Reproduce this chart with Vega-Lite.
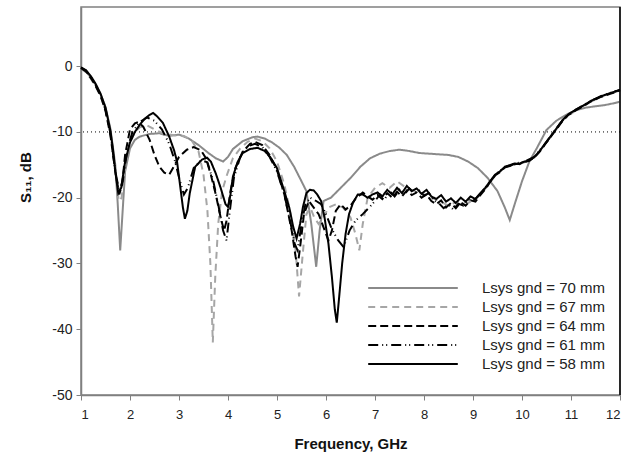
{
  "$schema": "https://vega.github.io/schema/vega-lite/v6.json",
  "autosize": {"type": "none"},
  "padding": {"left": 81, "top": 7, "right": 8, "bottom": 64},
  "width": 539,
  "height": 388,
  "background": "white",
  "config": {
    "font": "Liberation Sans",
    "view": {"stroke": "#808080", "strokeWidth": 1.5},
    "axis": {"grid": false, "domainColor": "#808080", "tickColor": "#808080", "domainWidth": 1.5, "tickSize": 5, "labelFont": "Liberation Sans", "labelFontSize": 13, "labelColor": "#222", "titleFont": "Liberation Sans", "titleFontSize": 15, "titleFontWeight": "bold", "titleColor": "#111"},
    "legend": {"padding": 0}
  },
  "datasets": {
    "curves": [
      {"s": "Lsys gnd = 70 mm", "f": 1.0, "db": -0.3}, {"s": "Lsys gnd = 70 mm", "f": 1.1, "db": -0.8}, {"s": "Lsys gnd = 70 mm", "f": 1.2, "db": -1.7}, {"s": "Lsys gnd = 70 mm", "f": 1.3, "db": -2.8}, {"s": "Lsys gnd = 70 mm", "f": 1.4, "db": -4.3}, {"s": "Lsys gnd = 70 mm", "f": 1.5, "db": -6.2}, {"s": "Lsys gnd = 70 mm", "f": 1.6, "db": -9.5}, {"s": "Lsys gnd = 70 mm", "f": 1.7, "db": -15}, {"s": "Lsys gnd = 70 mm", "f": 1.75, "db": -21}, {"s": "Lsys gnd = 70 mm", "f": 1.8, "db": -28}, {"s": "Lsys gnd = 70 mm", "f": 1.85, "db": -22}, {"s": "Lsys gnd = 70 mm", "f": 1.9, "db": -16}, {"s": "Lsys gnd = 70 mm", "f": 2.0, "db": -12.5}, {"s": "Lsys gnd = 70 mm", "f": 2.1, "db": -11.2}, {"s": "Lsys gnd = 70 mm", "f": 2.2, "db": -10.7}, {"s": "Lsys gnd = 70 mm", "f": 2.4, "db": -10.3}, {"s": "Lsys gnd = 70 mm", "f": 2.6, "db": -10.2}, {"s": "Lsys gnd = 70 mm", "f": 2.8, "db": -10.6}, {"s": "Lsys gnd = 70 mm", "f": 3.0, "db": -10.4}, {"s": "Lsys gnd = 70 mm", "f": 3.2, "db": -11}, {"s": "Lsys gnd = 70 mm", "f": 3.4, "db": -12}, {"s": "Lsys gnd = 70 mm", "f": 3.6, "db": -13.2}, {"s": "Lsys gnd = 70 mm", "f": 3.75, "db": -14}, {"s": "Lsys gnd = 70 mm", "f": 3.9, "db": -14.5}, {"s": "Lsys gnd = 70 mm", "f": 4.0, "db": -13.8}, {"s": "Lsys gnd = 70 mm", "f": 4.1, "db": -12.6}, {"s": "Lsys gnd = 70 mm", "f": 4.3, "db": -11.4}, {"s": "Lsys gnd = 70 mm", "f": 4.5, "db": -10.8}, {"s": "Lsys gnd = 70 mm", "f": 4.6, "db": -10.7}, {"s": "Lsys gnd = 70 mm", "f": 4.75, "db": -11}, {"s": "Lsys gnd = 70 mm", "f": 4.9, "db": -11.6}, {"s": "Lsys gnd = 70 mm", "f": 5.05, "db": -12.4}, {"s": "Lsys gnd = 70 mm", "f": 5.2, "db": -13.5}, {"s": "Lsys gnd = 70 mm", "f": 5.35, "db": -15.3}, {"s": "Lsys gnd = 70 mm", "f": 5.5, "db": -17.5}, {"s": "Lsys gnd = 70 mm", "f": 5.6, "db": -19}, {"s": "Lsys gnd = 70 mm", "f": 5.7, "db": -24}, {"s": "Lsys gnd = 70 mm", "f": 5.8, "db": -30.5}, {"s": "Lsys gnd = 70 mm", "f": 5.87, "db": -25}, {"s": "Lsys gnd = 70 mm", "f": 5.95, "db": -20.5}, {"s": "Lsys gnd = 70 mm", "f": 6.1, "db": -20}, {"s": "Lsys gnd = 70 mm", "f": 6.3, "db": -18.5}, {"s": "Lsys gnd = 70 mm", "f": 6.5, "db": -17}, {"s": "Lsys gnd = 70 mm", "f": 6.7, "db": -15.3}, {"s": "Lsys gnd = 70 mm", "f": 6.9, "db": -14}, {"s": "Lsys gnd = 70 mm", "f": 7.1, "db": -13.3}, {"s": "Lsys gnd = 70 mm", "f": 7.3, "db": -12.9}, {"s": "Lsys gnd = 70 mm", "f": 7.5, "db": -12.7}, {"s": "Lsys gnd = 70 mm", "f": 7.7, "db": -12.9}, {"s": "Lsys gnd = 70 mm", "f": 7.9, "db": -13.2}, {"s": "Lsys gnd = 70 mm", "f": 8.1, "db": -13.3}, {"s": "Lsys gnd = 70 mm", "f": 8.3, "db": -13.4}, {"s": "Lsys gnd = 70 mm", "f": 8.5, "db": -13.5}, {"s": "Lsys gnd = 70 mm", "f": 8.7, "db": -13.8}, {"s": "Lsys gnd = 70 mm", "f": 8.9, "db": -14.5}, {"s": "Lsys gnd = 70 mm", "f": 9.1, "db": -15.5}, {"s": "Lsys gnd = 70 mm", "f": 9.3, "db": -17}, {"s": "Lsys gnd = 70 mm", "f": 9.5, "db": -19}, {"s": "Lsys gnd = 70 mm", "f": 9.65, "db": -21.5}, {"s": "Lsys gnd = 70 mm", "f": 9.75, "db": -23.4}, {"s": "Lsys gnd = 70 mm", "f": 9.85, "db": -21}, {"s": "Lsys gnd = 70 mm", "f": 10.0, "db": -17.5}, {"s": "Lsys gnd = 70 mm", "f": 10.15, "db": -14.5}, {"s": "Lsys gnd = 70 mm", "f": 10.3, "db": -12.5}, {"s": "Lsys gnd = 70 mm", "f": 10.5, "db": -9.7}, {"s": "Lsys gnd = 70 mm", "f": 10.7, "db": -8.3}, {"s": "Lsys gnd = 70 mm", "f": 10.9, "db": -7.4}, {"s": "Lsys gnd = 70 mm", "f": 11.1, "db": -6.7}, {"s": "Lsys gnd = 70 mm", "f": 11.3, "db": -6.3}, {"s": "Lsys gnd = 70 mm", "f": 11.5, "db": -6.1}, {"s": "Lsys gnd = 70 mm", "f": 11.7, "db": -5.9}, {"s": "Lsys gnd = 70 mm", "f": 11.9, "db": -5.6}, {"s": "Lsys gnd = 70 mm", "f": 12.0, "db": -5.4},

      {"s": "Lsys gnd = 67 mm", "f": 1.0, "db": -0.3}, {"s": "Lsys gnd = 67 mm", "f": 1.1, "db": -0.9}, {"s": "Lsys gnd = 67 mm", "f": 1.2, "db": -1.9}, {"s": "Lsys gnd = 67 mm", "f": 1.3, "db": -3.1}, {"s": "Lsys gnd = 67 mm", "f": 1.4, "db": -4.6}, {"s": "Lsys gnd = 67 mm", "f": 1.5, "db": -6.6}, {"s": "Lsys gnd = 67 mm", "f": 1.6, "db": -10}, {"s": "Lsys gnd = 67 mm", "f": 1.7, "db": -15.5}, {"s": "Lsys gnd = 67 mm", "f": 1.77, "db": -20.5}, {"s": "Lsys gnd = 67 mm", "f": 1.83, "db": -20}, {"s": "Lsys gnd = 67 mm", "f": 1.9, "db": -15}, {"s": "Lsys gnd = 67 mm", "f": 2.0, "db": -11.5}, {"s": "Lsys gnd = 67 mm", "f": 2.1, "db": -10}, {"s": "Lsys gnd = 67 mm", "f": 2.2, "db": -9.3}, {"s": "Lsys gnd = 67 mm", "f": 2.35, "db": -9.0}, {"s": "Lsys gnd = 67 mm", "f": 2.5, "db": -9.6}, {"s": "Lsys gnd = 67 mm", "f": 2.7, "db": -10.3}, {"s": "Lsys gnd = 67 mm", "f": 2.9, "db": -10.5}, {"s": "Lsys gnd = 67 mm", "f": 3.1, "db": -10.6}, {"s": "Lsys gnd = 67 mm", "f": 3.25, "db": -11.2}, {"s": "Lsys gnd = 67 mm", "f": 3.4, "db": -13}, {"s": "Lsys gnd = 67 mm", "f": 3.5, "db": -16.5}, {"s": "Lsys gnd = 67 mm", "f": 3.58, "db": -22}, {"s": "Lsys gnd = 67 mm", "f": 3.64, "db": -30}, {"s": "Lsys gnd = 67 mm", "f": 3.69, "db": -42}, {"s": "Lsys gnd = 67 mm", "f": 3.74, "db": -32}, {"s": "Lsys gnd = 67 mm", "f": 3.8, "db": -24}, {"s": "Lsys gnd = 67 mm", "f": 3.88, "db": -19}, {"s": "Lsys gnd = 67 mm", "f": 3.98, "db": -16.5}, {"s": "Lsys gnd = 67 mm", "f": 4.1, "db": -14}, {"s": "Lsys gnd = 67 mm", "f": 4.25, "db": -12.5}, {"s": "Lsys gnd = 67 mm", "f": 4.4, "db": -11.5}, {"s": "Lsys gnd = 67 mm", "f": 4.55, "db": -11}, {"s": "Lsys gnd = 67 mm", "f": 4.7, "db": -11.4}, {"s": "Lsys gnd = 67 mm", "f": 4.85, "db": -12.5}, {"s": "Lsys gnd = 67 mm", "f": 5.0, "db": -14.5}, {"s": "Lsys gnd = 67 mm", "f": 5.15, "db": -18}, {"s": "Lsys gnd = 67 mm", "f": 5.28, "db": -22.5}, {"s": "Lsys gnd = 67 mm", "f": 5.38, "db": -28}, {"s": "Lsys gnd = 67 mm", "f": 5.45, "db": -35}, {"s": "Lsys gnd = 67 mm", "f": 5.52, "db": -29}, {"s": "Lsys gnd = 67 mm", "f": 5.6, "db": -22.5}, {"s": "Lsys gnd = 67 mm", "f": 5.68, "db": -21.5}, {"s": "Lsys gnd = 67 mm", "f": 5.76, "db": -23}, {"s": "Lsys gnd = 67 mm", "f": 5.85, "db": -24}, {"s": "Lsys gnd = 67 mm", "f": 5.95, "db": -23}, {"s": "Lsys gnd = 67 mm", "f": 6.05, "db": -21.5}, {"s": "Lsys gnd = 67 mm", "f": 6.2, "db": -21}, {"s": "Lsys gnd = 67 mm", "f": 6.35, "db": -21.5}, {"s": "Lsys gnd = 67 mm", "f": 6.5, "db": -23}, {"s": "Lsys gnd = 67 mm", "f": 6.6, "db": -25.5}, {"s": "Lsys gnd = 67 mm", "f": 6.68, "db": -28}, {"s": "Lsys gnd = 67 mm", "f": 6.75, "db": -24}, {"s": "Lsys gnd = 67 mm", "f": 6.85, "db": -20}, {"s": "Lsys gnd = 67 mm", "f": 7.0, "db": -18.5}, {"s": "Lsys gnd = 67 mm", "f": 7.15, "db": -17.8}, {"s": "Lsys gnd = 67 mm", "f": 7.3, "db": -18.5}, {"s": "Lsys gnd = 67 mm", "f": 7.45, "db": -17.5}, {"s": "Lsys gnd = 67 mm", "f": 7.6, "db": -18.3}, {"s": "Lsys gnd = 67 mm", "f": 7.75, "db": -18.8}, {"s": "Lsys gnd = 67 mm", "f": 7.9, "db": -19.2}, {"s": "Lsys gnd = 67 mm", "f": 8.1, "db": -19.8}, {"s": "Lsys gnd = 67 mm", "f": 8.3, "db": -20.5}, {"s": "Lsys gnd = 67 mm", "f": 8.5, "db": -21.2}, {"s": "Lsys gnd = 67 mm", "f": 8.7, "db": -20.5}, {"s": "Lsys gnd = 67 mm", "f": 8.9, "db": -20.8}, {"s": "Lsys gnd = 67 mm", "f": 9.1, "db": -19.9}, {"s": "Lsys gnd = 67 mm", "f": 9.3, "db": -18.2}, {"s": "Lsys gnd = 67 mm", "f": 9.45, "db": -16.7}, {"s": "Lsys gnd = 67 mm", "f": 9.65, "db": -15.4}, {"s": "Lsys gnd = 67 mm", "f": 9.85, "db": -14.9}, {"s": "Lsys gnd = 67 mm", "f": 10.05, "db": -14.6}, {"s": "Lsys gnd = 67 mm", "f": 10.25, "db": -13.9}, {"s": "Lsys gnd = 67 mm", "f": 10.45, "db": -12.1}, {"s": "Lsys gnd = 67 mm", "f": 10.65, "db": -10.1}, {"s": "Lsys gnd = 67 mm", "f": 10.85, "db": -8.1}, {"s": "Lsys gnd = 67 mm", "f": 11.1, "db": -6.7}, {"s": "Lsys gnd = 67 mm", "f": 11.4, "db": -5.4}, {"s": "Lsys gnd = 67 mm", "f": 11.7, "db": -4.4}, {"s": "Lsys gnd = 67 mm", "f": 12.0, "db": -3.7},

      {"s": "Lsys gnd = 64 mm", "f": 1.0, "db": -0.3}, {"s": "Lsys gnd = 64 mm", "f": 1.1, "db": -0.8}, {"s": "Lsys gnd = 64 mm", "f": 1.2, "db": -1.8}, {"s": "Lsys gnd = 64 mm", "f": 1.3, "db": -3}, {"s": "Lsys gnd = 64 mm", "f": 1.4, "db": -4.5}, {"s": "Lsys gnd = 64 mm", "f": 1.5, "db": -6.8}, {"s": "Lsys gnd = 64 mm", "f": 1.6, "db": -10.5}, {"s": "Lsys gnd = 64 mm", "f": 1.7, "db": -16}, {"s": "Lsys gnd = 64 mm", "f": 1.78, "db": -19.5}, {"s": "Lsys gnd = 64 mm", "f": 1.84, "db": -18}, {"s": "Lsys gnd = 64 mm", "f": 1.9, "db": -13.5}, {"s": "Lsys gnd = 64 mm", "f": 2.0, "db": -9.6}, {"s": "Lsys gnd = 64 mm", "f": 2.1, "db": -8.7}, {"s": "Lsys gnd = 64 mm", "f": 2.17, "db": -8.5}, {"s": "Lsys gnd = 64 mm", "f": 2.27, "db": -9.2}, {"s": "Lsys gnd = 64 mm", "f": 2.4, "db": -11.2}, {"s": "Lsys gnd = 64 mm", "f": 2.5, "db": -13.5}, {"s": "Lsys gnd = 64 mm", "f": 2.6, "db": -15.3}, {"s": "Lsys gnd = 64 mm", "f": 2.7, "db": -16.2}, {"s": "Lsys gnd = 64 mm", "f": 2.8, "db": -16.5}, {"s": "Lsys gnd = 64 mm", "f": 2.9, "db": -15.2}, {"s": "Lsys gnd = 64 mm", "f": 3.0, "db": -13.8}, {"s": "Lsys gnd = 64 mm", "f": 3.16, "db": -12.7}, {"s": "Lsys gnd = 64 mm", "f": 3.3, "db": -12.3}, {"s": "Lsys gnd = 64 mm", "f": 3.45, "db": -12.8}, {"s": "Lsys gnd = 64 mm", "f": 3.55, "db": -14}, {"s": "Lsys gnd = 64 mm", "f": 3.65, "db": -16.5}, {"s": "Lsys gnd = 64 mm", "f": 3.75, "db": -19.5}, {"s": "Lsys gnd = 64 mm", "f": 3.85, "db": -23}, {"s": "Lsys gnd = 64 mm", "f": 3.92, "db": -25}, {"s": "Lsys gnd = 64 mm", "f": 3.97, "db": -23.5}, {"s": "Lsys gnd = 64 mm", "f": 4.05, "db": -19}, {"s": "Lsys gnd = 64 mm", "f": 4.15, "db": -15.5}, {"s": "Lsys gnd = 64 mm", "f": 4.3, "db": -13}, {"s": "Lsys gnd = 64 mm", "f": 4.45, "db": -11.8}, {"s": "Lsys gnd = 64 mm", "f": 4.55, "db": -11.5}, {"s": "Lsys gnd = 64 mm", "f": 4.7, "db": -12}, {"s": "Lsys gnd = 64 mm", "f": 4.85, "db": -13.5}, {"s": "Lsys gnd = 64 mm", "f": 5.0, "db": -15.8}, {"s": "Lsys gnd = 64 mm", "f": 5.15, "db": -19.5}, {"s": "Lsys gnd = 64 mm", "f": 5.3, "db": -25}, {"s": "Lsys gnd = 64 mm", "f": 5.38, "db": -29}, {"s": "Lsys gnd = 64 mm", "f": 5.42, "db": -30.5}, {"s": "Lsys gnd = 64 mm", "f": 5.48, "db": -27}, {"s": "Lsys gnd = 64 mm", "f": 5.55, "db": -22.5}, {"s": "Lsys gnd = 64 mm", "f": 5.65, "db": -20.5}, {"s": "Lsys gnd = 64 mm", "f": 5.75, "db": -21.5}, {"s": "Lsys gnd = 64 mm", "f": 5.85, "db": -22.5}, {"s": "Lsys gnd = 64 mm", "f": 5.95, "db": -24.5}, {"s": "Lsys gnd = 64 mm", "f": 6.05, "db": -26.5}, {"s": "Lsys gnd = 64 mm", "f": 6.12, "db": -25}, {"s": "Lsys gnd = 64 mm", "f": 6.2, "db": -22}, {"s": "Lsys gnd = 64 mm", "f": 6.3, "db": -21}, {"s": "Lsys gnd = 64 mm", "f": 6.4, "db": -21.8}, {"s": "Lsys gnd = 64 mm", "f": 6.5, "db": -21.2}, {"s": "Lsys gnd = 64 mm", "f": 6.6, "db": -20.2}, {"s": "Lsys gnd = 64 mm", "f": 6.75, "db": -19.2}, {"s": "Lsys gnd = 64 mm", "f": 6.85, "db": -19.8}, {"s": "Lsys gnd = 64 mm", "f": 6.95, "db": -20.3}, {"s": "Lsys gnd = 64 mm", "f": 7.05, "db": -19.6}, {"s": "Lsys gnd = 64 mm", "f": 7.15, "db": -20.2}, {"s": "Lsys gnd = 64 mm", "f": 7.25, "db": -19.3}, {"s": "Lsys gnd = 64 mm", "f": 7.35, "db": -20}, {"s": "Lsys gnd = 64 mm", "f": 7.45, "db": -19.1}, {"s": "Lsys gnd = 64 mm", "f": 7.55, "db": -19.8}, {"s": "Lsys gnd = 64 mm", "f": 7.65, "db": -18.9}, {"s": "Lsys gnd = 64 mm", "f": 7.75, "db": -19.6}, {"s": "Lsys gnd = 64 mm", "f": 7.85, "db": -19.2}, {"s": "Lsys gnd = 64 mm", "f": 7.95, "db": -20}, {"s": "Lsys gnd = 64 mm", "f": 8.05, "db": -19.5}, {"s": "Lsys gnd = 64 mm", "f": 8.15, "db": -20.5}, {"s": "Lsys gnd = 64 mm", "f": 8.25, "db": -21}, {"s": "Lsys gnd = 64 mm", "f": 8.35, "db": -20.4}, {"s": "Lsys gnd = 64 mm", "f": 8.45, "db": -21.5}, {"s": "Lsys gnd = 64 mm", "f": 8.55, "db": -20.8}, {"s": "Lsys gnd = 64 mm", "f": 8.65, "db": -21.6}, {"s": "Lsys gnd = 64 mm", "f": 8.75, "db": -20.7}, {"s": "Lsys gnd = 64 mm", "f": 8.85, "db": -21.2}, {"s": "Lsys gnd = 64 mm", "f": 8.95, "db": -20.4}, {"s": "Lsys gnd = 64 mm", "f": 9.05, "db": -20.6}, {"s": "Lsys gnd = 64 mm", "f": 9.15, "db": -19.6}, {"s": "Lsys gnd = 64 mm", "f": 9.25, "db": -18.7}, {"s": "Lsys gnd = 64 mm", "f": 9.35, "db": -17.6}, {"s": "Lsys gnd = 64 mm", "f": 9.45, "db": -16.6}, {"s": "Lsys gnd = 64 mm", "f": 9.55, "db": -16.1}, {"s": "Lsys gnd = 64 mm", "f": 9.65, "db": -15.4}, {"s": "Lsys gnd = 64 mm", "f": 9.75, "db": -15.1}, {"s": "Lsys gnd = 64 mm", "f": 9.85, "db": -14.9}, {"s": "Lsys gnd = 64 mm", "f": 9.95, "db": -14.8}, {"s": "Lsys gnd = 64 mm", "f": 10.05, "db": -14.6}, {"s": "Lsys gnd = 64 mm", "f": 10.15, "db": -14.3}, {"s": "Lsys gnd = 64 mm", "f": 10.25, "db": -13.9}, {"s": "Lsys gnd = 64 mm", "f": 10.35, "db": -13.1}, {"s": "Lsys gnd = 64 mm", "f": 10.45, "db": -12.1}, {"s": "Lsys gnd = 64 mm", "f": 10.55, "db": -11.1}, {"s": "Lsys gnd = 64 mm", "f": 10.65, "db": -10.1}, {"s": "Lsys gnd = 64 mm", "f": 10.75, "db": -9.1}, {"s": "Lsys gnd = 64 mm", "f": 10.85, "db": -8.1}, {"s": "Lsys gnd = 64 mm", "f": 10.95, "db": -7.4}, {"s": "Lsys gnd = 64 mm", "f": 11.1, "db": -6.7}, {"s": "Lsys gnd = 64 mm", "f": 11.25, "db": -6.1}, {"s": "Lsys gnd = 64 mm", "f": 11.4, "db": -5.4}, {"s": "Lsys gnd = 64 mm", "f": 11.6, "db": -4.7}, {"s": "Lsys gnd = 64 mm", "f": 11.8, "db": -4.2}, {"s": "Lsys gnd = 64 mm", "f": 12.0, "db": -3.7},

      {"s": "Lsys gnd = 61 mm", "f": 1.0, "db": -0.2}, {"s": "Lsys gnd = 61 mm", "f": 1.1, "db": -0.7}, {"s": "Lsys gnd = 61 mm", "f": 1.2, "db": -1.6}, {"s": "Lsys gnd = 61 mm", "f": 1.3, "db": -2.9}, {"s": "Lsys gnd = 61 mm", "f": 1.4, "db": -4.4}, {"s": "Lsys gnd = 61 mm", "f": 1.5, "db": -6.6}, {"s": "Lsys gnd = 61 mm", "f": 1.6, "db": -10.2}, {"s": "Lsys gnd = 61 mm", "f": 1.7, "db": -16}, {"s": "Lsys gnd = 61 mm", "f": 1.78, "db": -19}, {"s": "Lsys gnd = 61 mm", "f": 1.85, "db": -17.5}, {"s": "Lsys gnd = 61 mm", "f": 1.95, "db": -12.5}, {"s": "Lsys gnd = 61 mm", "f": 2.05, "db": -10}, {"s": "Lsys gnd = 61 mm", "f": 2.2, "db": -8.5}, {"s": "Lsys gnd = 61 mm", "f": 2.35, "db": -7.8}, {"s": "Lsys gnd = 61 mm", "f": 2.5, "db": -8.3}, {"s": "Lsys gnd = 61 mm", "f": 2.65, "db": -9.6}, {"s": "Lsys gnd = 61 mm", "f": 2.8, "db": -11.8}, {"s": "Lsys gnd = 61 mm", "f": 2.92, "db": -14.5}, {"s": "Lsys gnd = 61 mm", "f": 3.02, "db": -17.5}, {"s": "Lsys gnd = 61 mm", "f": 3.1, "db": -19.5}, {"s": "Lsys gnd = 61 mm", "f": 3.18, "db": -18.5}, {"s": "Lsys gnd = 61 mm", "f": 3.3, "db": -15.5}, {"s": "Lsys gnd = 61 mm", "f": 3.45, "db": -14.3}, {"s": "Lsys gnd = 61 mm", "f": 3.58, "db": -14.6}, {"s": "Lsys gnd = 61 mm", "f": 3.7, "db": -17.5}, {"s": "Lsys gnd = 61 mm", "f": 3.8, "db": -21}, {"s": "Lsys gnd = 61 mm", "f": 3.9, "db": -25}, {"s": "Lsys gnd = 61 mm", "f": 3.97, "db": -26.5}, {"s": "Lsys gnd = 61 mm", "f": 4.03, "db": -22.5}, {"s": "Lsys gnd = 61 mm", "f": 4.12, "db": -17}, {"s": "Lsys gnd = 61 mm", "f": 4.25, "db": -13.8}, {"s": "Lsys gnd = 61 mm", "f": 4.4, "db": -12.2}, {"s": "Lsys gnd = 61 mm", "f": 4.55, "db": -11.8}, {"s": "Lsys gnd = 61 mm", "f": 4.7, "db": -12.3}, {"s": "Lsys gnd = 61 mm", "f": 4.85, "db": -13.8}, {"s": "Lsys gnd = 61 mm", "f": 5.0, "db": -16}, {"s": "Lsys gnd = 61 mm", "f": 5.15, "db": -19.5}, {"s": "Lsys gnd = 61 mm", "f": 5.28, "db": -24}, {"s": "Lsys gnd = 61 mm", "f": 5.36, "db": -27}, {"s": "Lsys gnd = 61 mm", "f": 5.42, "db": -28}, {"s": "Lsys gnd = 61 mm", "f": 5.5, "db": -24}, {"s": "Lsys gnd = 61 mm", "f": 5.58, "db": -21}, {"s": "Lsys gnd = 61 mm", "f": 5.68, "db": -20}, {"s": "Lsys gnd = 61 mm", "f": 5.8, "db": -20.5}, {"s": "Lsys gnd = 61 mm", "f": 5.9, "db": -21}, {"s": "Lsys gnd = 61 mm", "f": 6.0, "db": -22.5}, {"s": "Lsys gnd = 61 mm", "f": 6.12, "db": -24.8}, {"s": "Lsys gnd = 61 mm", "f": 6.25, "db": -26.5}, {"s": "Lsys gnd = 61 mm", "f": 6.36, "db": -27.5}, {"s": "Lsys gnd = 61 mm", "f": 6.48, "db": -25}, {"s": "Lsys gnd = 61 mm", "f": 6.6, "db": -23.5}, {"s": "Lsys gnd = 61 mm", "f": 6.75, "db": -22.5}, {"s": "Lsys gnd = 61 mm", "f": 6.88, "db": -21.5}, {"s": "Lsys gnd = 61 mm", "f": 7.0, "db": -20.5}, {"s": "Lsys gnd = 61 mm", "f": 7.1, "db": -19.5}, {"s": "Lsys gnd = 61 mm", "f": 7.2, "db": -20.2}, {"s": "Lsys gnd = 61 mm", "f": 7.3, "db": -19}, {"s": "Lsys gnd = 61 mm", "f": 7.4, "db": -19.8}, {"s": "Lsys gnd = 61 mm", "f": 7.5, "db": -18.8}, {"s": "Lsys gnd = 61 mm", "f": 7.6, "db": -19.5}, {"s": "Lsys gnd = 61 mm", "f": 7.7, "db": -18.6}, {"s": "Lsys gnd = 61 mm", "f": 7.8, "db": -19.3}, {"s": "Lsys gnd = 61 mm", "f": 7.9, "db": -18.9}, {"s": "Lsys gnd = 61 mm", "f": 8.0, "db": -19.7}, {"s": "Lsys gnd = 61 mm", "f": 8.1, "db": -19.3}, {"s": "Lsys gnd = 61 mm", "f": 8.2, "db": -20.4}, {"s": "Lsys gnd = 61 mm", "f": 8.3, "db": -20.8}, {"s": "Lsys gnd = 61 mm", "f": 8.4, "db": -21.6}, {"s": "Lsys gnd = 61 mm", "f": 8.5, "db": -21}, {"s": "Lsys gnd = 61 mm", "f": 8.6, "db": -21.8}, {"s": "Lsys gnd = 61 mm", "f": 8.7, "db": -20.9}, {"s": "Lsys gnd = 61 mm", "f": 8.8, "db": -21.2}, {"s": "Lsys gnd = 61 mm", "f": 8.9, "db": -20.3}, {"s": "Lsys gnd = 61 mm", "f": 9.0, "db": -20.5}, {"s": "Lsys gnd = 61 mm", "f": 9.1, "db": -19.8}, {"s": "Lsys gnd = 61 mm", "f": 9.2, "db": -19}, {"s": "Lsys gnd = 61 mm", "f": 9.3, "db": -18}, {"s": "Lsys gnd = 61 mm", "f": 9.45, "db": -16.6}, {"s": "Lsys gnd = 61 mm", "f": 9.65, "db": -15.3}, {"s": "Lsys gnd = 61 mm", "f": 9.85, "db": -14.8}, {"s": "Lsys gnd = 61 mm", "f": 10.05, "db": -14.5}, {"s": "Lsys gnd = 61 mm", "f": 10.25, "db": -13.8}, {"s": "Lsys gnd = 61 mm", "f": 10.45, "db": -12}, {"s": "Lsys gnd = 61 mm", "f": 10.65, "db": -10}, {"s": "Lsys gnd = 61 mm", "f": 10.85, "db": -8}, {"s": "Lsys gnd = 61 mm", "f": 11.1, "db": -6.6}, {"s": "Lsys gnd = 61 mm", "f": 11.4, "db": -5.3}, {"s": "Lsys gnd = 61 mm", "f": 11.7, "db": -4.3}, {"s": "Lsys gnd = 61 mm", "f": 12.0, "db": -3.6},

      {"s": "Lsys gnd = 58 mm", "f": 1.0, "db": -0.2}, {"s": "Lsys gnd = 58 mm", "f": 1.1, "db": -0.6}, {"s": "Lsys gnd = 58 mm", "f": 1.2, "db": -1.5}, {"s": "Lsys gnd = 58 mm", "f": 1.3, "db": -2.7}, {"s": "Lsys gnd = 58 mm", "f": 1.4, "db": -4.2}, {"s": "Lsys gnd = 58 mm", "f": 1.5, "db": -6.3}, {"s": "Lsys gnd = 58 mm", "f": 1.6, "db": -9.8}, {"s": "Lsys gnd = 58 mm", "f": 1.65, "db": -12.5}, {"s": "Lsys gnd = 58 mm", "f": 1.7, "db": -16}, {"s": "Lsys gnd = 58 mm", "f": 1.76, "db": -19.3}, {"s": "Lsys gnd = 58 mm", "f": 1.82, "db": -18.5}, {"s": "Lsys gnd = 58 mm", "f": 1.9, "db": -14.5}, {"s": "Lsys gnd = 58 mm", "f": 2.0, "db": -11.6}, {"s": "Lsys gnd = 58 mm", "f": 2.1, "db": -10}, {"s": "Lsys gnd = 58 mm", "f": 2.2, "db": -8.9}, {"s": "Lsys gnd = 58 mm", "f": 2.3, "db": -8}, {"s": "Lsys gnd = 58 mm", "f": 2.4, "db": -7.4}, {"s": "Lsys gnd = 58 mm", "f": 2.47, "db": -7.1}, {"s": "Lsys gnd = 58 mm", "f": 2.55, "db": -7.6}, {"s": "Lsys gnd = 58 mm", "f": 2.67, "db": -8.6}, {"s": "Lsys gnd = 58 mm", "f": 2.8, "db": -10.7}, {"s": "Lsys gnd = 58 mm", "f": 2.9, "db": -12.8}, {"s": "Lsys gnd = 58 mm", "f": 2.96, "db": -14.5}, {"s": "Lsys gnd = 58 mm", "f": 3.02, "db": -18}, {"s": "Lsys gnd = 58 mm", "f": 3.08, "db": -21.5}, {"s": "Lsys gnd = 58 mm", "f": 3.12, "db": -23.2}, {"s": "Lsys gnd = 58 mm", "f": 3.17, "db": -22}, {"s": "Lsys gnd = 58 mm", "f": 3.22, "db": -19.3}, {"s": "Lsys gnd = 58 mm", "f": 3.33, "db": -15.3}, {"s": "Lsys gnd = 58 mm", "f": 3.47, "db": -14.2}, {"s": "Lsys gnd = 58 mm", "f": 3.57, "db": -13.9}, {"s": "Lsys gnd = 58 mm", "f": 3.65, "db": -14.5}, {"s": "Lsys gnd = 58 mm", "f": 3.75, "db": -16.3}, {"s": "Lsys gnd = 58 mm", "f": 3.85, "db": -18.5}, {"s": "Lsys gnd = 58 mm", "f": 3.95, "db": -21}, {"s": "Lsys gnd = 58 mm", "f": 4.0, "db": -21.4}, {"s": "Lsys gnd = 58 mm", "f": 4.05, "db": -19.5}, {"s": "Lsys gnd = 58 mm", "f": 4.1, "db": -16.8}, {"s": "Lsys gnd = 58 mm", "f": 4.2, "db": -14.5}, {"s": "Lsys gnd = 58 mm", "f": 4.3, "db": -13.2}, {"s": "Lsys gnd = 58 mm", "f": 4.45, "db": -12.6}, {"s": "Lsys gnd = 58 mm", "f": 4.6, "db": -12.4}, {"s": "Lsys gnd = 58 mm", "f": 4.75, "db": -12.9}, {"s": "Lsys gnd = 58 mm", "f": 4.86, "db": -13.8}, {"s": "Lsys gnd = 58 mm", "f": 5.0, "db": -15.5}, {"s": "Lsys gnd = 58 mm", "f": 5.12, "db": -18.3}, {"s": "Lsys gnd = 58 mm", "f": 5.25, "db": -21.5}, {"s": "Lsys gnd = 58 mm", "f": 5.33, "db": -24.4}, {"s": "Lsys gnd = 58 mm", "f": 5.4, "db": -26.2}, {"s": "Lsys gnd = 58 mm", "f": 5.47, "db": -24}, {"s": "Lsys gnd = 58 mm", "f": 5.53, "db": -21.4}, {"s": "Lsys gnd = 58 mm", "f": 5.6, "db": -19.3}, {"s": "Lsys gnd = 58 mm", "f": 5.67, "db": -18.8}, {"s": "Lsys gnd = 58 mm", "f": 5.75, "db": -18.9}, {"s": "Lsys gnd = 58 mm", "f": 5.82, "db": -19.5}, {"s": "Lsys gnd = 58 mm", "f": 5.9, "db": -20.5}, {"s": "Lsys gnd = 58 mm", "f": 5.97, "db": -23}, {"s": "Lsys gnd = 58 mm", "f": 6.05, "db": -27}, {"s": "Lsys gnd = 58 mm", "f": 6.12, "db": -32}, {"s": "Lsys gnd = 58 mm", "f": 6.18, "db": -37}, {"s": "Lsys gnd = 58 mm", "f": 6.22, "db": -39}, {"s": "Lsys gnd = 58 mm", "f": 6.27, "db": -35}, {"s": "Lsys gnd = 58 mm", "f": 6.33, "db": -30}, {"s": "Lsys gnd = 58 mm", "f": 6.4, "db": -25.5}, {"s": "Lsys gnd = 58 mm", "f": 6.47, "db": -22.5}, {"s": "Lsys gnd = 58 mm", "f": 6.55, "db": -20.8}, {"s": "Lsys gnd = 58 mm", "f": 6.65, "db": -19.5}, {"s": "Lsys gnd = 58 mm", "f": 6.75, "db": -19.5}, {"s": "Lsys gnd = 58 mm", "f": 6.85, "db": -20}, {"s": "Lsys gnd = 58 mm", "f": 6.95, "db": -19.5}, {"s": "Lsys gnd = 58 mm", "f": 7.05, "db": -19.2}, {"s": "Lsys gnd = 58 mm", "f": 7.15, "db": -19.8}, {"s": "Lsys gnd = 58 mm", "f": 7.25, "db": -18.8}, {"s": "Lsys gnd = 58 mm", "f": 7.35, "db": -19.5}, {"s": "Lsys gnd = 58 mm", "f": 7.45, "db": -18.5}, {"s": "Lsys gnd = 58 mm", "f": 7.55, "db": -19.3}, {"s": "Lsys gnd = 58 mm", "f": 7.65, "db": -18.2}, {"s": "Lsys gnd = 58 mm", "f": 7.75, "db": -19}, {"s": "Lsys gnd = 58 mm", "f": 7.85, "db": -18.6}, {"s": "Lsys gnd = 58 mm", "f": 7.95, "db": -19.4}, {"s": "Lsys gnd = 58 mm", "f": 8.05, "db": -18.8}, {"s": "Lsys gnd = 58 mm", "f": 8.15, "db": -19.8}, {"s": "Lsys gnd = 58 mm", "f": 8.25, "db": -20.2}, {"s": "Lsys gnd = 58 mm", "f": 8.35, "db": -19.6}, {"s": "Lsys gnd = 58 mm", "f": 8.45, "db": -20.6}, {"s": "Lsys gnd = 58 mm", "f": 8.55, "db": -20.1}, {"s": "Lsys gnd = 58 mm", "f": 8.65, "db": -20.8}, {"s": "Lsys gnd = 58 mm", "f": 8.75, "db": -20}, {"s": "Lsys gnd = 58 mm", "f": 8.85, "db": -20.6}, {"s": "Lsys gnd = 58 mm", "f": 8.95, "db": -19.8}, {"s": "Lsys gnd = 58 mm", "f": 9.05, "db": -20.2}, {"s": "Lsys gnd = 58 mm", "f": 9.15, "db": -19.3}, {"s": "Lsys gnd = 58 mm", "f": 9.25, "db": -18.5}, {"s": "Lsys gnd = 58 mm", "f": 9.35, "db": -17.5}, {"s": "Lsys gnd = 58 mm", "f": 9.45, "db": -16.5}, {"s": "Lsys gnd = 58 mm", "f": 9.55, "db": -16}, {"s": "Lsys gnd = 58 mm", "f": 9.65, "db": -15.3}, {"s": "Lsys gnd = 58 mm", "f": 9.75, "db": -15.2}, {"s": "Lsys gnd = 58 mm", "f": 9.85, "db": -14.8}, {"s": "Lsys gnd = 58 mm", "f": 9.95, "db": -14.9}, {"s": "Lsys gnd = 58 mm", "f": 10.05, "db": -14.5}, {"s": "Lsys gnd = 58 mm", "f": 10.15, "db": -14.4}, {"s": "Lsys gnd = 58 mm", "f": 10.25, "db": -13.8}, {"s": "Lsys gnd = 58 mm", "f": 10.35, "db": -13}, {"s": "Lsys gnd = 58 mm", "f": 10.45, "db": -12}, {"s": "Lsys gnd = 58 mm", "f": 10.55, "db": -11}, {"s": "Lsys gnd = 58 mm", "f": 10.65, "db": -10}, {"s": "Lsys gnd = 58 mm", "f": 10.75, "db": -9}, {"s": "Lsys gnd = 58 mm", "f": 10.85, "db": -8}, {"s": "Lsys gnd = 58 mm", "f": 10.95, "db": -7.3}, {"s": "Lsys gnd = 58 mm", "f": 11.1, "db": -6.6}, {"s": "Lsys gnd = 58 mm", "f": 11.25, "db": -6}, {"s": "Lsys gnd = 58 mm", "f": 11.4, "db": -5.3}, {"s": "Lsys gnd = 58 mm", "f": 11.6, "db": -4.6}, {"s": "Lsys gnd = 58 mm", "f": 11.8, "db": -4.1}, {"s": "Lsys gnd = 58 mm", "f": 12.0, "db": -3.6}
    ],
    "ref": [{"level": -10}],
    "edge": [{"fx": 12}]
  },
  "layer": [
    {
      "data": {"name": "ref"},
      "mark": {"type": "rule", "color": "#000", "strokeWidth": 1, "strokeDash": [1, 3]},
      "encoding": {"y": {"field": "level", "type": "quantitative", "scale": {"domain": [-50, 9]}}}
    },
    {
      "data": {"name": "curves"},
      "mark": {"type": "line", "strokeWidth": 2, "interpolate": "linear"},
      "encoding": {
        "x": {"field": "f", "type": "quantitative", "scale": {"domain": [1, 12], "nice": false, "zero": false},
          "axis": {"values": [1,2,3,4,5,6,7,8,9,10,11,12], "title": "Frequency, GHz", "labelPadding": 8, "titlePadding": 15}},
        "y": {"field": "db", "type": "quantitative", "scale": {"domain": [-50, 9], "nice": false, "zero": false},
          "axis": {"values": [-50,-40,-30,-20,-10,0], "labelExpr": "datum.value + ''", "labelFontSize": 14, "labelPadding": 4, "title": "S₁₁, dB", "titleX": -56, "titleY": 170, "titleAngle": -90, "titleAlign": "center", "titleBaseline": "middle"}},
        "color": {"field": "s", "type": "nominal",
          "scale": {"domain": ["Lsys gnd = 70 mm", "Lsys gnd = 67 mm", "Lsys gnd = 64 mm", "Lsys gnd = 61 mm", "Lsys gnd = 58 mm"], "range": ["#8a8a8a", "#a6a6a6", "#000000", "#000000", "#000000"]},
          "legend": {"title": null, "orient": "none", "legendX": 323, "legendY": 272, "symbolType": "M-5.6,0H5.6", "symbolSize": 256, "symbolStrokeWidth": 2, "labelFontSize": 15, "labelFont": "Liberation Sans", "labelColor": "#222", "labelOffset": 60, "rowPadding": 2}},
        "strokeDash": {"field": "s", "type": "nominal",
          "scale": {"domain": ["Lsys gnd = 70 mm", "Lsys gnd = 67 mm", "Lsys gnd = 64 mm", "Lsys gnd = 61 mm", "Lsys gnd = 58 mm"], "range": [[1, 0], [7, 5], [8, 4], [10, 4, 1, 3, 1, 4], [1, 0]]},
          "legend": null}
      }
    },
    {
      "data": {"name": "edge"},
      "mark": {"type": "rule", "color": "#000", "strokeWidth": 1.5},
      "encoding": {"x": {"field": "fx", "type": "quantitative"}}
    }
  ]
}
